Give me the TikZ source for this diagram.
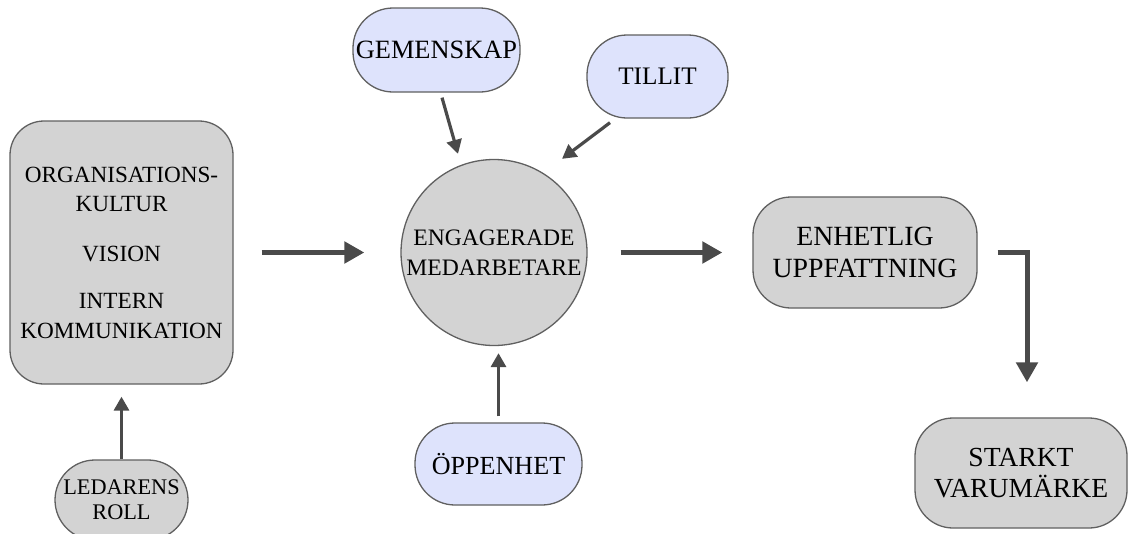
\documentclass[tikz,border=0pt]{standalone}
\usepackage{fontspec}
\setmainfont{Liberation Serif}
\usetikzlibrary{arrows.meta}
\definecolor{boxgray}{HTML}{D3D3D3}
\definecolor{boxblue}{HTML}{DEE3FC}
\definecolor{edgegray}{HTML}{606060}
\definecolor{arrgray}{HTML}{4A4A4A}
\tikzset{
  graybox/.style={draw=edgegray, line width=1.3pt, fill=boxgray, inner sep=0pt, align=center, text=black},
  bluebox/.style={draw=edgegray, line width=1.3pt, fill=boxblue, inner sep=0pt, align=center, text=black},
  thickarr/.style={draw=arrgray, line width=5pt, -{Triangle[length=20pt,width=21pt]}},
  thinarr/.style={draw=arrgray, line width=3.2pt, -{Triangle[length=14pt,width=15pt]}},
}
\begin{document}
\begin{tikzpicture}[x=1pt,y=-1pt]
\useasboundingbox (0,0) rectangle (1129,533);
% left box
\node[graybox, rounded corners=34pt, minimum width=223pt, minimum height=263pt,
      font=\fontsize{23.2}{29.5}\selectfont] (org) at (121.5,252.5)
  {ORGANISATIONS-\\KULTUR\\[20pt]VISION\\[18pt]INTERN\\KOMMUNIKATION};
% leader ellipse
\node[graybox, rounded corners=40pt, minimum width=133pt, minimum height=80pt,
      font=\fontsize{22.3}{25}\selectfont] (led) at (121.5,500)
  {LEDARENS\\ROLL};
% centre circle
\node[graybox, circle, minimum size=186pt,
      font=\fontsize{23.6}{30}\selectfont] (eng) at (494,252.5)
  {ENGAGERADE\\MEDARBETARE};
% blue nodes
\node[bluebox, rounded corners=40pt, minimum width=167pt, minimum height=84pt,
      font=\fontsize{26.4}{30}\selectfont] (gem) at (436.5,50) {GEMENSKAP};
\node[bluebox, rounded corners=40pt, minimum width=141pt, minimum height=83pt,
      font=\fontsize{25.2}{30}\selectfont] (til) at (657.5,76.5) {TILLIT};
\node[bluebox, rounded corners=40pt, minimum width=167pt, minimum height=82pt,
      font=\fontsize{26.1}{30}\selectfont] (opp) at (498.5,464) {ÖPPENHET};
% right boxes
\node[graybox, rounded corners=38pt, minimum width=224pt, minimum height=111pt,
      font=\fontsize{27.8}{32}\selectfont] (enh) at (865,252.5)
  {ENHETLIG\\UPPFATTNING};
\node[graybox, rounded corners=38pt, minimum width=212pt, minimum height=110pt,
      font=\fontsize{27.6}{31}\selectfont] (stark) at (1021,473)
  {STARKT\\VARUMÄRKE};
% connectors
\draw[thinarr, shorten >=12pt] (led) -- (org);
\draw[thickarr, shorten <=28pt, shorten >=36pt] (org) -- (eng);
\draw[thickarr, shorten <=33pt, shorten >=30pt] (eng) -- (enh);
\draw[thickarr] ([xshift=20pt]enh.east) -| ([xshift=6pt,yshift=35pt]stark.north);
\draw[thinarr] ([xshift=5.5pt,yshift=-5pt]gem.south) -- ([xshift=-36pt,yshift=5pt]eng.north);
\draw[thinarr] ([xshift=-47.5pt,yshift=-4pt]til.south) -- ([xshift=68pt]eng.north);
\draw[thinarr, shorten <=6pt, shorten >=7pt] (opp.north) -- (opp.north |- eng.south);
\end{tikzpicture}
\end{document}
